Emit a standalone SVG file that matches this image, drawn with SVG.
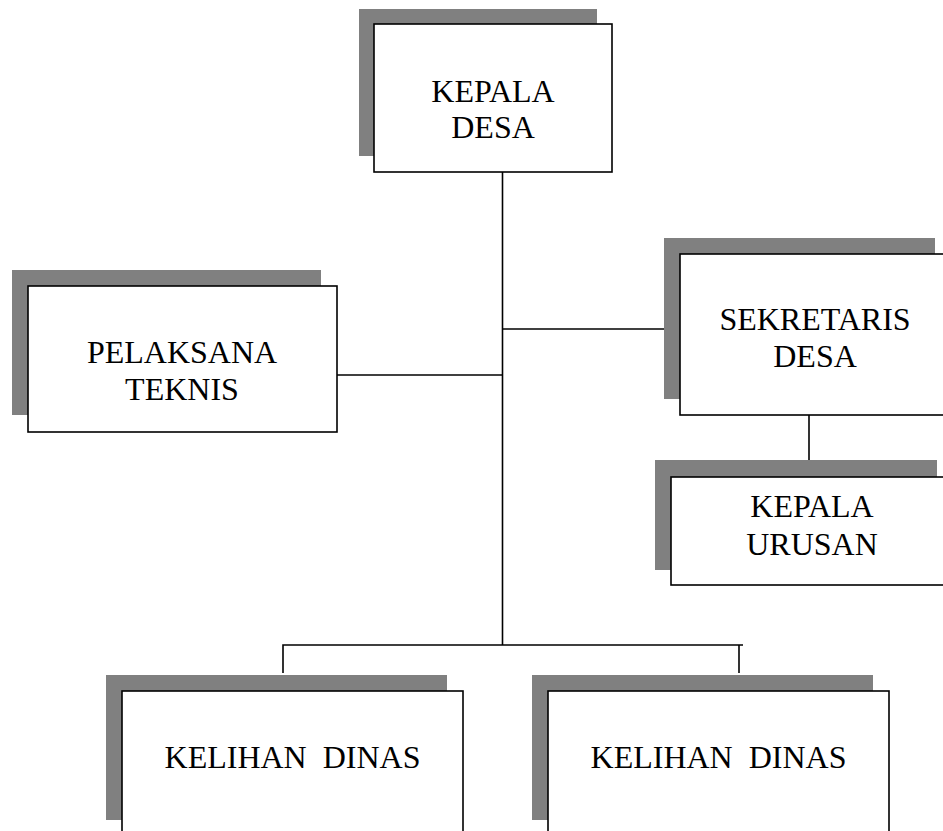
<svg xmlns="http://www.w3.org/2000/svg" width="943" height="831" viewBox="0 0 943 831">
<style>
.sh{fill:#808080;stroke:none}
.bx{fill:#fff;stroke:#000;stroke-width:1.6}
.t{font-family:"Liberation Serif","Times New Roman",serif;font-size:32px;fill:#000;text-anchor:middle;white-space:pre}
.c{fill:none;stroke:#000;stroke-width:1.6}
</style>
<rect width="943" height="831" fill="#fff"/>
<g id="connectors">
<line class="c" x1="502.5" y1="172" x2="502.5" y2="645"/>
<line class="c" x1="337" y1="375" x2="502.5" y2="375"/>
<line class="c" x1="502.5" y1="329" x2="680" y2="329"/>
<line class="c" x1="809" y1="415" x2="809" y2="477"/>
<polyline class="c" points="283,673 283,645 743,645"/>
<line class="c" x1="739" y1="645" x2="739" y2="673"/>
</g>
<g id="kepala-desa">
<rect class="sh" x="359" y="9" width="238" height="147"/>
<rect class="bx" x="374" y="24" width="238" height="148"/>
<text class="t" x="493" y="102">KEPALA</text>
<text class="t" x="493" y="138">DESA</text>
</g>
<g id="pelaksana-teknis">
<rect class="sh" x="12" y="270" width="309" height="145"/>
<rect class="bx" x="28" y="286" width="309" height="146"/>
<text class="t" x="182" y="363">PELAKSANA</text>
<text class="t" x="182" y="400">TEKNIS</text>
</g>
<g id="sekretaris-desa">
<rect class="sh" x="664" y="238" width="271" height="161"/>
<rect class="bx" x="680" y="254" width="270" height="161"/>
<text class="t" x="815" y="330">SEKRETARIS</text>
<text class="t" x="815" y="367">DESA</text>
</g>
<g id="kepala-urusan">
<rect class="sh" x="655" y="460" width="282" height="110"/>
<rect class="bx" x="671" y="477" width="285" height="108"/>
<text class="t" x="812" y="517">KEPALA</text>
<text class="t" x="812" y="555">URUSAN</text>
</g>
<g id="kelihan-dinas-1">
<rect class="sh" x="106" y="675" width="341" height="145"/>
<rect class="bx" x="122" y="691" width="341" height="160"/>
<text class="t" x="292.5" y="768">KELIHAN  DINAS</text>
</g>
<g id="kelihan-dinas-2">
<rect class="sh" x="532" y="675" width="341" height="145"/>
<rect class="bx" x="548" y="691" width="341" height="160"/>
<text class="t" x="718.5" y="768">KELIHAN  DINAS</text>
</g>
</svg>
